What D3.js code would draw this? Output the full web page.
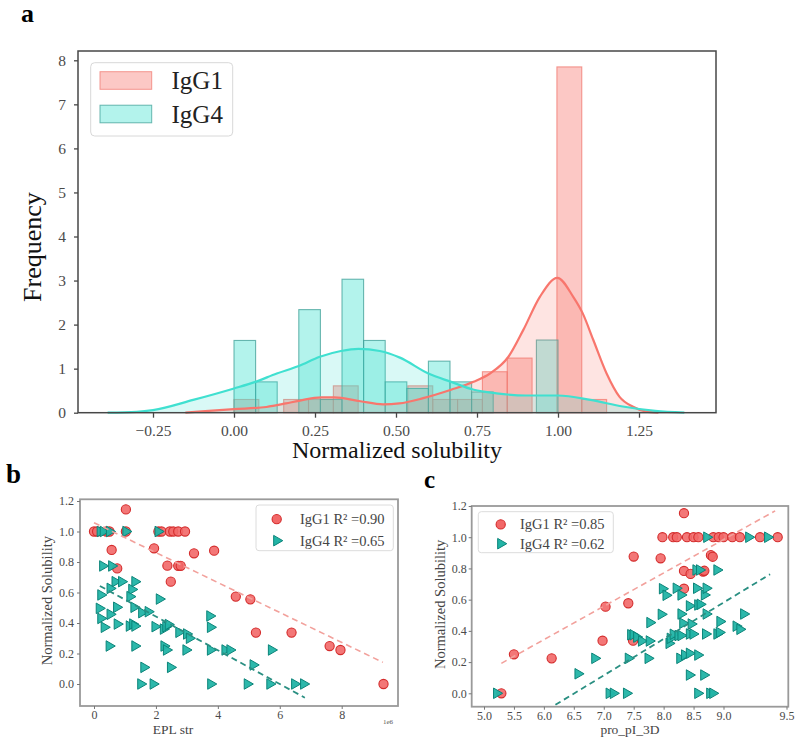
<!DOCTYPE html>
<html>
<head>
<meta charset="utf-8">
<script src="https://cdn.jsdelivr.net/npm/d3@7"></script>
<style>
  body { margin: 0; background: #fff; }
  svg { display: block; font-family: "Liberation Serif", "Times New Roman", serif; }
</style>
</head>
<body>
<div id="chart"></div>
<script>
const width = 800;
const height = 742;

// ---- panel a: histogram (density) + kde of normalized solubility ----
const groups = ["IgG1", "IgG4"];
const colors = { IgG1: "#f8766d", IgG4: "#40e0d0" };
const edgeColors = { IgG1: "#f07a70", IgG4: "#3f9f97" };

// bins: IgG1 15 bins over [0, 1.15], IgG4 15 bins over [0, 1]
const ig1BinEdges = [0, 1.15];
const ig4BinEdges = [0, 1.0];
const ig1Density = [0.30, 0, 0.30, 0.30, 0.61, 0, 0, 0.61, 0.30, 0.30, 0.93, 1.24, 0, 7.85, 0.30];
const ig4Density = [1.64, 0.70, 0, 2.34, 0.30, 3.03, 1.64, 0.70, 0.55, 1.17, 0.70, 0.47, 0, 0, 1.65];

// kde curves
const ig1KdeX = [-0.15, -0.1, 0, 0.1, 0.16, 0.2, 0.27, 0.31, 0.39, 0.46, 0.51, 0.584, 0.67, 0.739, 0.79, 0.847, 0.893, 0.944, 0.998, 1.047, 1.076, 1.109, 1.15, 1.19, 1.23, 1.27, 1.31];
const ig1KdeY = [0, 0.03, 0.08, 0.13, 0.21, 0.27, 0.35, 0.35, 0.26, 0.19, 0.21, 0.33, 0.52, 0.70, 0.89, 1.27, 1.88, 2.63, 3.06, 2.63, 2.26, 1.65, 0.89, 0.36, 0.14, 0.03, 0];
const ig4KdeX = [-0.39, -0.3, -0.25, -0.126, 0.0, 0.066, 0.132, 0.2, 0.265, 0.33, 0.384, 0.45, 0.512, 0.6, 0.67, 0.74, 0.81, 0.9, 1.0, 1.1, 1.2, 1.3, 1.39];
const ig4KdeY = [0, 0.02, 0.06, 0.29, 0.55, 0.70, 0.89, 1.06, 1.27, 1.40, 1.45, 1.40, 1.25, 0.89, 0.70, 0.52, 0.44, 0.39, 0.39, 0.29, 0.14, 0.04, 0];

const aXTicks = [-0.25, 0, 0.25, 0.5, 0.75, 1.0, 1.25];
const aYTicks = [0, 1, 2, 3, 4, 5, 6, 7, 8];

// ---- panel b: EPL_str vs normalized solubility (x in 1e6) ----
const bIgG1 = [
  [0.0, 1.0], [0.1, 1.0], [0.4, 1.0], [0.5, 1.0], [1.03, 1.0], [2.08, 1.0], [2.18, 1.0], [2.45, 1.0], [2.56, 1.0], [2.72, 1.0], [2.94, 1.0],
  [1.03, 1.145], [0.57, 0.879], [0.75, 0.758], [1.94, 0.89], [2.37, 0.776], [2.72, 0.775], [2.80, 0.775], [2.48, 0.671],
  [3.23, 0.857], [3.88, 0.874], [4.58, 0.573], [5.05, 0.555], [5.23, 0.337], [6.38, 0.337], [7.61, 0.249], [7.96, 0.223], [9.35, 0.0]
];
const bIgG4 = [
  [0.2, 1.0], [0.3, 1.0], [0.5, 1.0], [1.03, 1.0], [2.07, 1.0],
  [0.28, 0.774], [0.57, 0.774], [0.68, 0.671], [0.89, 0.671], [1.32, 0.671], [1.22, 0.62], [1.16, 0.573], [0.52, 0.627],
  [2.11, 0.557], [0.22, 0.584], [0.17, 0.496], [0.22, 0.43], [0.52, 0.457], [0.73, 0.503], [1.29, 0.503], [0.33, 0.372],
  [0.75, 0.393], [1.14, 0.38], [1.25, 0.393], [1.32, 0.38], [1.54, 0.468], [1.75, 0.474], [1.97, 0.376], [2.24, 0.36],
  [2.32, 0.376], [2.40, 0.39], [2.74, 0.339], [2.99, 0.328], [3.08, 0.30], [3.74, 0.446], [3.76, 0.372], [0.49, 0.249],
  [1.32, 0.249], [2.26, 0.249], [2.34, 0.223], [2.97, 0.223], [3.76, 0.223], [4.23, 0.223], [4.39, 0.223], [5.73, 0.223],
  [5.14, 0.125], [1.61, 0.109], [2.47, 0.109], [1.51, 0.0], [1.91, 0.0], [3.77, 0.0], [4.95, 0.0], [5.68, 0.0], [6.48, 0.0], [6.77, 0.0]
];
const bFitIgG1 = [[0, 1.058], [9.33, 0.142]];
const bFitIgG4 = [[0.19, 0.643], [6.81, -0.09]];
const bR2 = ["0.90", "0.65"];
const bXTicks = [0, 2, 4, 6, 8];

// ---- panel c: pro_pI_3D vs normalized solubility ----
const cIgG1 = [
  [5.29, 0.0], [5.5, 0.25], [6.13, 0.224], [7.03, 0.555], [6.98, 0.337], [7.41, 0.577], [7.49, 0.337], [7.5, 0.876],
  [7.95, 0.865], [8.34, 1.154], [8.34, 0.784], [8.45, 0.765], [8.34, 0.67], [8.66, 0.78], [8.68, 0.785], [8.79, 0.885], [8.82, 0.875],
  [7.98, 1.0], [8.16, 1.0], [8.22, 1.0], [8.39, 1.0], [8.50, 1.0], [8.58, 1.0], [8.83, 1.0], [8.92, 1.0], [9.0, 1.0],
  [9.07, 1.0], [9.13, 1.0], [9.29, 1.0], [9.43, 1.0]
];
const cIgG4 = [
  [5.21, 0.0], [6.57, 0.125], [6.85, 0.224], [7.09, 0.0], [7.16, 0.0], [7.38, 0.0], [7.41, 0.224], [7.45, 0.375], [7.49, 0.375],
  [7.55, 0.36], [7.63, 0.335], [7.74, 0.224], [7.76, 0.335], [7.77, 0.453], [7.96, 0.506], [7.98, 0.67], [8.04, 0.628],
  [8.09, 0.32], [8.11, 0.352], [8.16, 0.378], [8.21, 0.673], [8.24, 0.37], [8.27, 0.224], [8.29, 0.37], [8.29, 0.63],
  [8.29, 0.508], [8.32, 0.449], [8.35, 0.245], [8.43, 0.256], [8.43, 0.38], [8.43, 0.56], [8.43, 0.117], [8.46, 0.444],
  [8.49, 0.38], [8.54, 0.79], [8.55, 0.673], [8.57, 0.245], [8.57, 0.566], [8.57, 0.0], [8.60, 0.79], [8.61, 0.57],
  [8.67, 0.117], [8.68, 0.63], [8.70, 0.38], [8.71, 0.673], [8.71, 0.508], [8.72, 1.0], [8.77, 0.0], [8.82, 0.0],
  [8.89, 0.79], [8.89, 0.38], [8.93, 0.39], [8.94, 0.46], [9.10, 0.43], [9.13, 0.41], [9.16, 0.508], [9.20, 1.0], [9.35, 1.0]
];
const cFitIgG1 = [[5.29, 0.192], [9.41, 1.169]];
const cFitIgG4 = [[6.05, -0.107], [9.37, 0.763]];
const cR2 = ["0.85", "0.62"];
const cXTicks = [5.0, 5.5, 6.0, 6.5, 7.0, 7.5, 8.0, 8.5, 9.0, 9.5];

const scatterYTicks = [0, 0.2, 0.4, 0.6, 0.8, 1.0, 1.2];

const svg = d3.select("#chart")
  .append("svg")
  .attr("width", width)
  .attr("height", height);

// ================= panel a =================
const xA = d3.scaleLinear().domain([-0.25, 1.25]).range([153, 639]);
const yA = d3.scaleLinear().domain([0, 8]).range([412.7, 60.3]);
const frameA = { x0: 78, y0: 51, x1: 716, y1: 412.7 };
const gA = svg.append("g");

function drawHist(edges, dens, key) {
  const w = (edges[1] - edges[0]) / dens.length;
  const bins = dens.map((d, i) => ({ x0: edges[0] + i * w, x1: edges[0] + (i + 1) * w, h: d }))
    .filter(b => b.h > 0);
  gA.selectAll(null)
    .data(bins)
    .enter()
    .append("rect")
    .attr("x", d => xA(d.x0))
    .attr("width", d => xA(d.x1) - xA(d.x0))
    .attr("y", d => yA(d.h))
    .attr("height", d => yA(0) - yA(d.h))
    .attr("fill", colors[key])
    .attr("fill-opacity", 0.4)
    .attr("stroke", edgeColors[key])
    .attr("stroke-opacity", 0.75)
    .attr("stroke-width", 1.1);
}
drawHist(ig1BinEdges, ig1Density, "IgG1");
drawHist(ig4BinEdges, ig4Density, "IgG4");

const kdeArea = d3.area().x(d => xA(d[0])).y0(yA(0)).y1(d => yA(d[1])).curve(d3.curveMonotoneX);
const kdeLine = d3.line().x(d => xA(d[0])).y(d => yA(d[1])).curve(d3.curveMonotoneX);
const ig1Kde = ig1KdeX.map((x, i) => [x, ig1KdeY[i]]);
const ig4Kde = ig4KdeX.map((x, i) => [x, ig4KdeY[i]]);

[[ig1Kde, "IgG1"], [ig4Kde, "IgG4"]].forEach(([pts, key]) => {
  gA.append("path").attr("d", kdeArea(pts))
    .attr("fill", colors[key]).attr("fill-opacity", 0.2);
});
[[ig1Kde, "IgG1"], [ig4Kde, "IgG4"]].forEach(([pts, key]) => {
  gA.append("path").attr("d", kdeLine(pts))
    .attr("fill", "none").attr("stroke", colors[key]).attr("stroke-width", 2.2);
});

// frame
gA.append("rect")
  .attr("x", frameA.x0).attr("y", frameA.y0)
  .attr("width", frameA.x1 - frameA.x0).attr("height", frameA.y1 - frameA.y0)
  .attr("fill", "none").attr("stroke", "#474747").attr("stroke-width", 1.5);

const axA_x = gA.append("g").attr("transform", `translate(0,${frameA.y1})`)
  .call(d3.axisBottom(xA).tickValues(aXTicks).tickFormat(d3.format(".2f")).tickSize(5).tickPadding(7));
const axA_y = gA.append("g").attr("transform", `translate(${frameA.x0},0)`)
  .call(d3.axisLeft(yA).tickValues(aYTicks).tickFormat(d3.format("d")).tickSize(4).tickPadding(8));
[axA_x, axA_y].forEach(ax => {
  ax.attr("font-family", null).attr("font-size", null);
  ax.select(".domain").remove();
  ax.selectAll("line").attr("stroke", "#474747").attr("stroke-width", 1.3);
  ax.selectAll("text").attr("fill", "#4a4a4a").style("font-size", "15.5px");
});

gA.append("text")
  .attr("x", 397).attr("y", 458)
  .attr("text-anchor", "middle")
  .style("font-size", "24px")
  .attr("fill", "#111")
  .text("Normalized solubility");

gA.append("text")
  .attr("transform", "translate(41,247) rotate(-90)")
  .attr("text-anchor", "middle")
  .style("font-size", "26px")
  .attr("fill", "#111")
  .text("Frequency");

// legend a
const legA = gA.append("g");
legA.append("rect")
  .attr("x", 90.7).attr("y", 62.7).attr("width", 142).attr("height", 73.3).attr("rx", 4)
  .attr("fill", "#fff").attr("fill-opacity", 0.8).attr("stroke", "#d8d8d8");
groups.forEach((g, i) => {
  legA.append("rect")
    .attr("x", 100).attr("y", 71.7 + i * 33.5).attr("width", 51.7).attr("height", 17.6)
    .attr("fill", colors[g]).attr("fill-opacity", 0.4)
    .attr("stroke", edgeColors[g]).attr("stroke-opacity", 0.75);
  legA.append("text")
    .attr("x", 171.5).attr("y", 89 + i * 33.5)
    .style("font-size", "25px").attr("fill", "#222")
    .text(g);
});

svg.append("text").attr("x", 21).attr("y", 22)
  .style("font-size", "26px").style("font-weight", "bold").text("a");

// ================= scatter panels =================
function scatterPanel(opt) {
  const g = svg.append("g");
  const { x, y, frame } = opt;
  const clipId = "clip-" + opt.label;
  svg.append("clipPath").attr("id", clipId)
    .append("rect").attr("x", frame.x0).attr("y", frame.y0)
    .attr("width", frame.x1 - frame.x0).attr("height", frame.y1 - frame.y0);

  const plot = g.append("g").attr("clip-path", `url(#${clipId})`);

  plot.selectAll("circle")
    .data(opt.ig1)
    .enter()
    .append("circle")
    .attr("cx", d => x(d[0]))
    .attr("cy", d => y(d[1]))
    .attr("r", 4.6)
    .attr("fill", "#f26868")
    .attr("fill-opacity", 0.9)
    .attr("stroke", "#d42c2c")
    .attr("stroke-width", 1.1);

  const tri = d3.symbol().type(d3.symbolTriangle).size(48);
  plot.selectAll("path.tri")
    .data(opt.ig4)
    .enter()
    .append("path")
    .attr("class", "tri")
    .attr("d", tri)
    .attr("transform", d => `translate(${x(d[0])},${y(d[1])}) rotate(90)`)
    .attr("fill", "#22b4a6")
    .attr("fill-opacity", 0.95)
    .attr("stroke", "#0b8479")
    .attr("stroke-width", 1);

  const fit = d3.line().x(d => x(d[0])).y(d => y(d[1]));
  plot.append("path").attr("d", fit(opt.fit1))
    .attr("fill", "none").attr("stroke", "#f2a19c").attr("stroke-width", 1.6).attr("stroke-dasharray", "6,4");
  plot.append("path").attr("d", fit(opt.fit4))
    .attr("fill", "none").attr("stroke", "#2a8f82").attr("stroke-width", 1.8).attr("stroke-dasharray", "6,4");

  g.append("rect")
    .attr("x", frame.x0).attr("y", frame.y0)
    .attr("width", frame.x1 - frame.x0).attr("height", frame.y1 - frame.y0)
    .attr("fill", "none").attr("stroke", "#9a9a9a").attr("stroke-width", 1.8);

  const ax = g.append("g").attr("transform", `translate(0,${frame.y1})`)
    .call(d3.axisBottom(x).tickValues(opt.xTicks).tickFormat(opt.xFormat).tickSize(3).tickPadding(1.5));
  const ay = g.append("g").attr("transform", `translate(${frame.x0},0)`)
    .call(d3.axisLeft(y).tickValues(scatterYTicks).tickFormat(d3.format(".1f")).tickSize(3).tickPadding(opt.yPad));
  [ax, ay].forEach(a => {
    a.attr("font-family", null).attr("font-size", null);
    a.select(".domain").remove();
    a.selectAll("line").attr("stroke", "#777");
    a.selectAll("text").attr("fill", "#4a4a4a").style("font-size", "12px");
  });

  g.append("text")
    .attr("x", opt.xLabelX).attr("y", 734)
    .attr("text-anchor", "middle")
    .style("font-size", "13.5px").attr("fill", "#444")
    .text(opt.xLabel);
  g.append("text")
    .attr("transform", `translate(${opt.yLabelX},${(frame.y0 + frame.y1) / 2 - 2}) rotate(-90)`)
    .attr("text-anchor", "middle")
    .style("font-size", "14.5px").attr("fill", "#444")
    .text("Normalized Solubility");

  // legend
  const L = opt.legend;
  g.append("rect")
    .attr("x", L.x).attr("y", L.y).attr("width", L.w).attr("height", L.h).attr("rx", 3)
    .attr("fill", "#fff").attr("fill-opacity", 0.85).attr("stroke", "#dcdcdc");
  g.append("circle")
    .attr("cx", L.mx).attr("cy", L.y + L.h * 0.31).attr("r", 4.6)
    .attr("fill", "#f26868").attr("stroke", "#d42c2c").attr("stroke-width", 1.1);
  g.append("path").attr("d", tri)
    .attr("transform", `translate(${L.mx},${L.y + L.h * 0.78}) rotate(90)`)
    .attr("fill", "#22b4a6").attr("stroke", "#0b8479");
  groups.forEach((grp, i) => {
    g.append("text")
      .attr("x", L.tx).attr("y", L.y + L.h * (i === 0 ? 0.31 : 0.78) + 5)
      .style("font-size", "14.5px").attr("fill", "#444")
      .text(`${grp} R\u00b2 =${opt.r2[i]}`);
  });

  svg.append("text").attr("x", opt.labelPos[0]).attr("y", opt.labelPos[1])
    .style("font-size", opt.labelSize).style("font-weight", "bold").text(opt.label);
  return g;
}

const frameB = { x0: 80, y0: 499.3, x1: 398, y1: 706 };
const xB = d3.scaleLinear().domain([0, 8]).range([94, 341.7]);
const yB = d3.scaleLinear().domain([0, 1.2]).range([684, 501]);
const gB = scatterPanel({
  label: "b", labelPos: [6, 483], labelSize: "27px",
  x: xB, y: yB, frame: frameB,
  ig1: bIgG1, ig4: bIgG4, fit1: bFitIgG1, fit4: bFitIgG4, r2: bR2,
  xTicks: bXTicks, xFormat: d3.format("d"), yPad: 3,
  xLabel: "EPL  str", xLabelX: 173, yLabelX: 52,
  legend: { x: 256, y: 505, w: 137.3, h: 45.7, mx: 276.7, tx: 300 }
});
gB.append("text").attr("x", 383).attr("y", 724)
  .style("font-size", "7px").attr("fill", "#555").text("1e6");

const frameC = { x0: 471.7, y0: 506, x1: 788.3, y1: 706.7 };
const xC = d3.scaleLinear().domain([5, 9, 9.5]).range([484, 723.5, 786.5]);
const yC = d3.scaleLinear().domain([0, 1.2]).range([693.3, 506]);
scatterPanel({
  label: "c", labelPos: [424, 488], labelSize: "25px",
  x: xC, y: yC, frame: frameC,
  ig1: cIgG1, ig4: cIgG4, fit1: cFitIgG1, fit4: cFitIgG4, r2: cR2,
  xTicks: cXTicks, xFormat: d3.format(".1f"), yPad: 2,
  xLabel: "pro_pI_3D", xLabelX: 630, yLabelX: 445,
  legend: { x: 478.3, y: 511.7, w: 135, h: 41, mx: 500.7, tx: 520 }
});
</script>
</body>
</html>
